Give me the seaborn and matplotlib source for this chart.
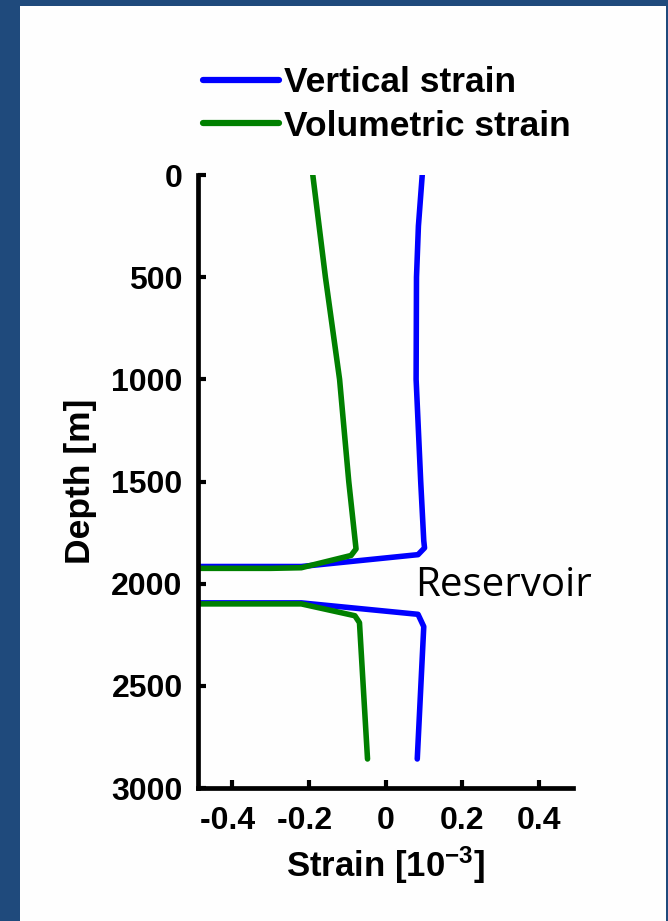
import pandas as pd
import seaborn as sns
import matplotlib.pyplot as plt
from matplotlib.patches import Rectangle

sns.set_style("white")
plt.rcParams['font.family'] = ['Liberation Sans', 'DejaVu Sans']
plt.rcParams['font.weight'] = 'bold'
plt.rcParams['text.color'] = 'black'
plt.rcParams['axes.labelcolor'] = 'black'
plt.rcParams['xtick.color'] = 'black'
plt.rcParams['ytick.color'] = 'black'
plt.rcParams['axes.unicode_minus'] = False
plt.rcParams['mathtext.fontset'] = 'custom'
plt.rcParams['mathtext.rm'] = 'Liberation Sans:bold'
plt.rcParams['mathtext.bf'] = 'Liberation Sans:bold'
plt.rcParams['mathtext.default'] = 'bf'

# vertical strain profile
depth_vert = [0, 250, 500, 1000, 1500, 1790, 1825, 1858, 1916, 1916, 2094, 2094, 2150, 2210, 2858]
strain_vert = [0.096, 0.086, 0.081, 0.080, 0.092, 0.100, 0.102, 0.085, -0.22, -1.0, -1.0, -0.22, 0.085, 0.100, 0.083]

# volumetric strain profile
depth_vol = [0, 500, 1000, 1500, 1830, 1862, 1922, 1925, 1925, 2099, 2099, 2157, 2191, 2858]
strain_vol = [-0.19, -0.157, -0.120, -0.096, -0.077, -0.090, -0.22, -0.30, -1.0, -1.0, -0.22, -0.080, -0.068, -0.047]

series = ['Vertical strain', 'Volumetric strain']
xticks = [-0.4, -0.2, 0, 0.2, 0.4]
yticks = [0, 500, 1000, 1500, 2000, 2500, 3000]

df = pd.concat([
    pd.DataFrame({'strain': strain_vert, 'depth': depth_vert, 'series': series[0]}),
    pd.DataFrame({'strain': strain_vol, 'depth': depth_vol, 'series': series[1]}),
])

fig = plt.figure(figsize=(6.68, 9.21), dpi=100)
fig.patch.set_facecolor('#1F4A7C')
fig.patches.append(Rectangle((20 / 668, 0), 646 / 668, 915 / 921, transform=fig.transFigure,
                             facecolor='#FEFEFE', edgecolor='none', zorder=-10))
ax = fig.add_axes([198 / 668, 1 - 788 / 921, 375 / 668, 613 / 921])
ax.set_facecolor('#FEFEFE')

sns.lineplot(data=df, x='strain', y='depth', hue='series', sort=False, estimator=None,
             units='series', palette=['#0000FF', '#008000'], linewidth=4, ax=ax)

ax.set_xlim(-0.49, 0.49)
ax.set_ylim(3000, 0)
ax.set_xticks(xticks)
# negative labels sit a bit left of their ticks in the original
ax.set_xticklabels(['-0.4 ', '-0.2 ', '0', '0.2', '0.4'])
ax.set_yticks(yticks)
ax.tick_params(direction='in', length=6, width=3, labelsize=23, pad=11, bottom=True, left=True)
ax.tick_params(axis='x', pad=13)
for s in ['top', 'right']:
    ax.spines[s].set_visible(False)
for s in ['left', 'bottom']:
    ax.spines[s].set_linewidth(3.4)
    ax.spines[s].set_color('black')

ax.set_xlabel(r'Strain [10$^{-3}$]', fontsize=25, fontweight='bold', labelpad=6)
ax.set_ylabel('Depth [m]', fontsize=25.5, fontweight='bold', labelpad=10)

ax.text(0.078, 2010, 'Reservoir', fontsize=29, fontweight='normal', family=['Open Sans', 'DejaVu Sans'],
        ha='left', va='center')

sns.move_legend(ax, 'upper left', bbox_to_anchor=(203 / 668, 1 - 66 / 921), bbox_transform=fig.transFigure,
                frameon=False, title=None, fontsize=25.5, handlelength=2.15, handletextpad=0.15,
                labelspacing=0.3, borderpad=0, borderaxespad=0)
for line in ax.get_legend().get_lines():
    line.set_linewidth(4.5)

fig.savefig('out.png', dpi=100, facecolor=fig.get_facecolor())
